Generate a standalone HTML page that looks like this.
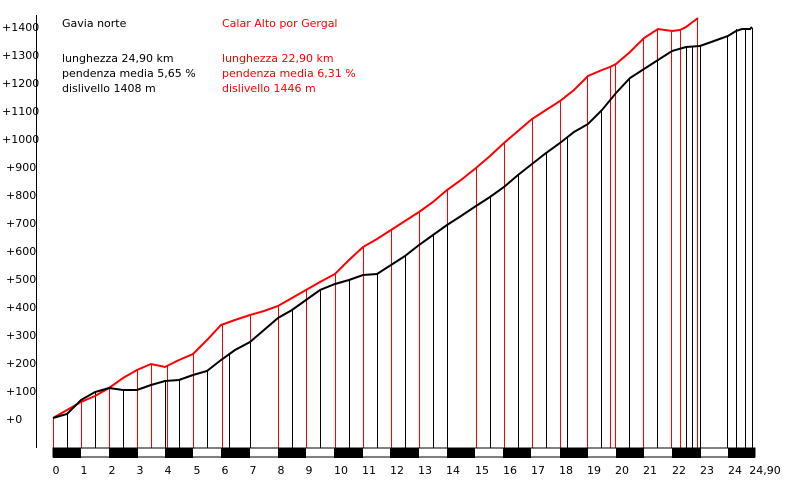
<!DOCTYPE html><html><head><style>body{margin:0;background:#fff}svg{display:block}text{font-family:"DejaVu Sans","Liberation Sans",sans-serif;font-size:11px}</style></head><body>
<svg width="786" height="481" xmlns="http://www.w3.org/2000/svg">
<g fill="#000">
<text x="2" y="31">+1400</text><text x="2" y="59">+1300</text><text x="2" y="87">+1200</text><text x="2" y="115">+1100</text><text x="2" y="143">+1000</text>
<text x="6" y="171">+900</text><text x="6" y="199">+800</text><text x="6" y="227">+700</text><text x="6" y="255">+600</text><text x="6" y="283">+500</text><text x="6" y="311">+400</text><text x="6" y="339">+300</text><text x="6" y="367">+200</text><text x="6" y="395">+100</text><text x="6" y="423">+0</text>
<text x="62" y="27">Gavia norte</text>
<text x="62" y="62">lunghezza 24,90 km</text><text x="62" y="77">pendenza media 5,65 %</text><text x="62" y="92">dislivello 1408 m</text>
</g>
<g fill="#f00"><text x="222" y="27">Calar Alto por Gergal</text>
<text x="222" y="62">lunghezza 22,90 km</text><text x="222" y="77">pendenza media 6,31 %</text><text x="222" y="92">dislivello 1446 m</text></g>
<line x1="36.5" y1="15" x2="36.5" y2="448" stroke="#000"/>
<g stroke="#f00" stroke-width="1">
<path d="M53.5 418V448M81.5 402V448M109.5 388V448M137.5 370V448M151.5 364V448M167.5 366V448M193.5 354V448M222.5 324V448M250.5 315V448M278.5 306V448M306.5 290V448M335.5 274V448M363.5 247V448M391.5 230V448M419.5 212V448M447.5 190V448M476.5 168V448M504.5 143V448M532.5 119V448M560.5 101V448M587.5 77V448M610.5 67V448M615.5 65V448M643.5 38V448M657.5 29V448M671.5 32V448M680.5 30V448M697.5 18V448"/>
</g>
<g stroke="#000" stroke-width="1">
<path d="M67.5 414V448M95.5 392V448M123.5 390V448M165.5 381V448M179.5 380V448M207.5 371V448M229.5 355V448M250.5 342V448M292.5 310V448M320.5 290V448M349.5 280V448M377.5 274V448M405.5 256V448M433.5 235V448M447.5 225V448M490.5 197V448M518.5 175V448M546.5 153V448M567.5 138V448M601.5 110V448M629.5 79V448M657.5 60V448M686.5 47V448M692.5 47V448M700.5 46V448M727.5 36V448M736.5 29V448M745.5 29V448M752.5 28V448"/>
</g>
<polyline fill="none" stroke="#f00" stroke-width="2" points="53,418 67,410 81,402 95,396 109,388 123,378 137,370 151,364 165,367 179,360 193,354 207,340 221,325 235,320 250,315 264,311 278,306 292,298 306,290 320,282 335,274 349,260 363,247 377,239 391,230 405,221 419,212 433,202 447,190 461,180 476,168 490,156 504,143 518,131 532,119 546,110 560,101 574,90 588,76 602,70 610,67 616,64 630,52 644,38 658,29 672,31 680,30 686,27 698,18"/>
<polyline fill="none" stroke="#000" stroke-width="2" points="53,418 67,414 81,400 95,392 109,388 123,390 137,390 151,385 165,381 179,380 193,375 207,371 221,360 235,350 250,342 264,330 278,318 292,310 306,300 320,290 335,284 349,280 363,275 377,274 391,265 405,256 419,245 433,235 447,225 461,216 476,206 490,197 504,187 518,175 532,164 546,153 560,143 574,132 588,124 602,110 616,93 630,78 644,69 658,60 672,51 686,47 700,46 714,41 728,36 736,31 742,29 750,29 752,27"/>
<rect x="53" y="448" width="702" height="9" fill="#fff" stroke="#000"/>
<g fill="#000">
<rect x="53" y="448" width="28" height="10"/><rect x="109" y="448" width="29" height="10"/><rect x="165" y="448" width="28" height="10"/><rect x="221" y="448" width="29" height="10"/><rect x="278" y="448" width="28" height="10"/><rect x="334" y="448" width="29" height="10"/><rect x="390" y="448" width="29" height="10"/><rect x="447" y="448" width="28" height="10"/><rect x="503" y="448" width="28" height="10"/><rect x="560" y="448" width="28" height="10"/><rect x="616" y="448" width="28" height="10"/><rect x="672" y="448" width="29" height="10"/><rect x="728" y="448" width="27" height="10"/>
</g>
<g fill="#000" text-anchor="middle">
<text x="56" y="474">0</text><text x="84" y="474">1</text><text x="112" y="474">2</text><text x="140" y="474">3</text><text x="168" y="474">4</text><text x="197" y="474">5</text><text x="225" y="474">6</text><text x="253" y="474">7</text><text x="281" y="474">8</text><text x="309" y="474">9</text><text x="341" y="474">10</text><text x="369" y="474">11</text><text x="397" y="474">12</text><text x="425" y="474">13</text><text x="453" y="474">14</text><text x="482" y="474">15</text><text x="510" y="474">16</text><text x="538" y="474">17</text><text x="566" y="474">18</text><text x="594" y="474">19</text><text x="622" y="474">20</text><text x="650" y="474">21</text><text x="679" y="474">22</text><text x="707" y="474">23</text><text x="735" y="474">24</text><text x="765" y="474">24,90</text>
</g>
</svg></body></html>
